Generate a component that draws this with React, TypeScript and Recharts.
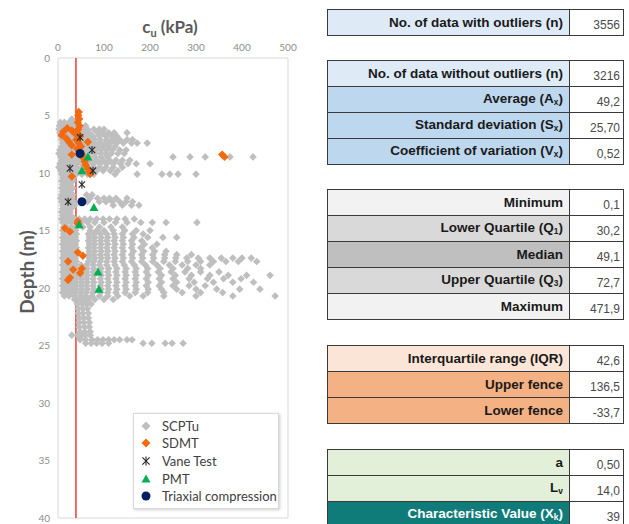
import { Legend, ReferenceArea, ReferenceLine, Scatter, ScatterChart, XAxis, YAxis } from "recharts";

const GREY = "#bfbfbf";
const ORANGE = "#f26a10";
const GREEN = "#00b050";
const NAVY = "#002060";
const BLACK = "#262626";
const RED = "#e8413c";
const AXIS_TEXT = "#595959";
const TICK_TEXT = "#8c8c8c";

const X_TICKS = [0, 100, 200, 300, 400, 500];
const Y_TICKS = [0, 5, 10, 15, 20, 25, 30, 35, 40];
const CHARACTERISTIC_CU = 39;

// SCPTu readings grouped per depth: [depth (m), cu values (kPa)]
const SCPTU_ROWS: [number, number[]][] = [
  [5.3, [30]],
  [5.6, [5, 14, 24, 34]],
  [5.9, [3, 10, 18, 26, 34, 42, 60]],
  [6.2, [2, 8, 16, 24, 32, 40, 48, 56, 64, 78, 90, 100]],
  [6.5, [4, 12, 20, 28, 36, 44, 52, 60, 68, 86, 98, 110, 122, 150]],
  [6.8, [6, 14, 22, 30, 38, 46, 56, 66, 76, 90, 104, 116, 128]],
  [7.1, [8, 16, 24, 32, 40, 50, 60, 70, 80, 92, 106, 120, 134, 150, 162]],
  [7.4, [10, 18, 26, 36, 46, 56, 66, 78, 90, 102, 114, 128, 142, 160, 172, 194]],
  [7.7, [8, 16, 24, 34, 44, 54, 64, 74, 86, 98, 110, 124]],
  [8.0, [4, 12, 20, 30, 40, 50, 60, 70, 82, 94, 106, 118, 134, 148]],
  [8.3, [2, 10, 18, 28, 38, 48, 58, 68, 80, 92, 104, 116, 130, 144]],
  [8.6, [6, 14, 24, 34, 44, 56, 68, 80, 94, 108, 250, 287, 320, 374, 424]],
  [8.9, [8, 16, 26, 36, 46, 58, 70, 84, 98, 112, 126, 140, 156]],
  [9.2, [4, 12, 22, 32, 42, 54, 66, 78, 92, 106, 120, 136, 152, 170, 200]],
  [9.5, [2, 10, 20, 30, 40, 52, 64, 76, 90, 104, 120, 140]],
  [9.8, [6, 14, 24, 34, 46, 58, 70, 84, 98, 114, 130]],
  [10.1, [8, 18, 28, 40, 52, 64, 78, 124, 172, 226, 243, 261, 300]],
  [10.4, [10, 18, 26, 34]],
  [10.7, [8, 16, 24, 32]],
  [11.0, [10, 18, 26]],
  [11.3, [8, 16, 24, 32]],
  [11.6, [10, 18, 26]],
  [11.9, [8, 16, 24, 32, 62, 74]],
  [12.2, [6, 14, 22, 30, 70, 86, 100, 112, 126, 150]],
  [12.5, [8, 16, 24, 34, 64, 90, 104, 118, 134, 148, 162]],
  [12.8, [10, 18, 26, 36, 120, 140, 160, 176]],
  [13.1, [10, 18, 28]],
  [13.4, [8, 16, 26]],
  [13.7, [10, 18, 28]],
  [14.0, [8, 16, 26, 36, 46, 58, 70, 84, 98, 112, 128, 146, 166]],
  [14.3, [10, 18, 28, 38, 50, 64, 80, 100, 125, 150, 180, 205, 235, 302]],
  [14.7, [12, 20, 30, 40, 54, 70, 90, 115, 140]],
  [15.0, [10, 18, 28, 38, 70, 84, 100, 120, 145, 170, 200]],
  [15.3, [12, 20, 30, 40, 66, 78, 92, 106, 122, 140, 162, 185]],
  [15.6, [10, 18, 28, 38, 68, 80, 94, 108, 124, 142, 165, 195, 228, 258]],
  [15.9, [12, 20, 30, 40, 66, 78, 92, 106, 122, 140, 160, 182]],
  [16.2, [10, 18, 28, 38, 68, 80, 94, 108, 124, 142, 162, 188, 215]],
  [16.5, [12, 20, 30, 40, 66, 78, 92, 106, 122, 140, 160, 180, 205]],
  [16.8, [10, 18, 28, 38, 68, 80, 94, 108, 124, 142, 164, 186, 210, 235]],
  [17.1, [12, 20, 30, 40, 66, 78, 92, 106, 122, 140, 160, 182, 206, 232, 258, 290]],
  [17.4, [10, 18, 28, 38, 68, 80, 94, 108, 124, 142, 162, 184, 208, 232, 256, 280, 305, 330, 355, 380, 400, 420]],
  [17.7, [12, 20, 30, 40, 66, 78, 92, 106, 122, 140, 160, 182, 206, 230, 255, 282, 310, 338, 365, 392, 432]],
  [18.0, [10, 18, 28, 38, 50, 62, 76, 90, 106, 124, 144, 166, 190, 215, 242, 270, 300, 330]],
  [18.3, [12, 20, 30, 40, 52, 64, 78, 94, 110, 128, 148, 170, 195, 222, 250, 282, 310]],
  [18.6, [10, 18, 28, 38, 50, 62, 76, 92, 108, 126, 146, 168, 192, 218, 246, 276, 310, 350]],
  [18.9, [12, 20, 30, 40, 52, 64, 78, 94, 110, 128, 148, 170, 196, 225, 255, 290, 330, 370, 410, 461]],
  [19.2, [10, 18, 28, 38, 50, 62, 76, 92, 108, 126, 146, 168, 192, 220, 250, 285, 325, 360, 398]],
  [19.5, [12, 20, 30, 40, 52, 64, 78, 94, 110, 128, 148, 170, 196, 225, 258, 296, 338, 380, 425]],
  [19.8, [10, 18, 28, 38, 50, 62, 76, 92, 108, 126, 146, 168, 192, 220, 250, 285, 320]],
  [20.1, [12, 20, 30, 40, 52, 64, 78, 94, 110, 128, 148, 170, 196, 225, 258, 300, 345, 395, 439]],
  [20.4, [10, 18, 28, 38, 50, 62, 76, 92, 108, 126, 146, 168, 195, 230, 270, 310, 358]],
  [20.7, [14, 24, 36, 48, 60, 74, 90, 108, 130, 156, 185, 230, 300, 380, 472]],
  [21.0, [36, 46, 56, 66, 80, 100, 120]],
  [21.4, [42, 52, 62, 72]],
  [21.8, [44, 54, 64]],
  [22.2, [44, 54, 66]],
  [22.6, [46, 56, 66]],
  [23.0, [46, 56, 68]],
  [23.4, [46, 58, 68]],
  [23.8, [48, 58, 70]],
  [24.1, [30, 43, 52, 60, 70]],
  [24.5, [48, 60, 74, 86, 98, 110, 122, 134, 150, 161]],
  [24.8, [60, 72, 84, 96, 110, 185, 204, 233, 248, 272]],
];

// [cu (kPa), depth (m)]
const SDMT: [number, number][] = [
  [45, 4.7], [44, 5.0], [46, 5.3], [43, 5.6], [47, 5.9], [44, 6.2], [42, 6.5], [48, 6.8],
  [40, 7.1], [45, 7.4], [50, 7.7], [42, 7.9], [46, 8.1], [52, 8.4], [55, 8.7], [58, 9.0],
  [60, 9.3], [64, 9.6], [68, 9.9], [70, 10.1], [20, 6.1], [12, 6.4], [8, 6.7], [18, 7.0],
  [24, 7.3], [30, 7.6], [30, 6.3], [38, 6.6], [65, 7.3], [30, 8.4], [30, 10.3],
  [357, 8.4], [362, 8.6], [43, 14.2], [43, 14.4], [15, 14.8], [26, 15.1], [43, 16.9],
  [54, 17.2], [22, 17.7], [33, 18.4], [52, 18.3], [48, 18.7], [26, 19.1], [22, 19.3],
];
const VANE: [number, number][] = [[48, 6.9], [74, 8.0], [26, 9.6], [76, 9.8], [52, 11.0], [22, 12.5]];
const PMT: [number, number][] = [[65, 8.6], [52, 9.8], [78, 13.0], [46, 14.5], [87, 18.6], [89, 20.1]];
const TRIAXIAL: [number, number][] = [[48, 8.3], [52, 12.5]];

const COUNT_ROWS = [["No. of data with outliers (n)", "3556"]];
const MOMENT_ROWS = [
  ["No. of data without outliers (n)", "3216"],
  ["Average (A_x)", "49,2"],
  ["Standard deviation (S_x)", "25,70"],
  ["Coefficient of variation (V_x)", "0,52"],
];
const QUARTILE_ROWS = [
  ["Minimum", "0,1"],
  ["Lower Quartile (Q_1)", "30,2"],
  ["Median", "49,1"],
  ["Upper Quartile (Q_3)", "72,7"],
  ["Maximum", "471,9"],
];
const FENCE_ROWS = [
  ["Interquartile range (IQR)", "42,6"],
  ["Upper fence", "136,5"],
  ["Lower fence", "-33,7"],
];
const CHAR_ROWS = [
  ["a", "0,50"],
  ["L_v", "14,0"],
  ["Characteristic Value (X_k)", "39"],
];

const scptu = SCPTU_ROWS.flatMap(([depth, values]) => values.map((cu) => ({ cu, depth })));
const toPoints = (rows: [number, number][]) => rows.map(([cu, depth]) => ({ cu, depth }));

type Kind = "diamond" | "star" | "triangle" | "circle";

function Marker({ kind, color, cx, cy, r = 4 }: { kind: Kind; color: string; cx: number; cy: number; r?: number }) {
  if (kind === "diamond")
    return <polygon points={`${cx},${cy - r} ${cx + r},${cy} ${cx},${cy + r} ${cx - r},${cy}`} fill={color} />;
  if (kind === "triangle")
    return <polygon points={`${cx},${cy - r} ${cx + r},${cy + r * 0.8} ${cx - r},${cy + r * 0.8}`} fill={color} />;
  if (kind === "circle") return <circle cx={cx} cy={cy} r={r} fill={color} />;
  const d = r * 0.8;
  return (
    <g stroke={color} strokeWidth={1.1}>
      <line x1={cx - d} y1={cy - d} x2={cx + d} y2={cy + d} />
      <line x1={cx - d} y1={cy + d} x2={cx + d} y2={cy - d} />
      <line x1={cx} y1={cy - r} x2={cx} y2={cy + r} />
    </g>
  );
}

const SERIES: { name: string; kind: Kind; color: string; r: number; data: { cu: number; depth: number }[] }[] = [
  { name: "SCPTu", kind: "diamond", color: GREY, r: 3.8, data: scptu },
  { name: "SDMT", kind: "diamond", color: ORANGE, r: 4.2, data: toPoints(SDMT) },
  { name: "Vane Test", kind: "star", color: BLACK, r: 4, data: toPoints(VANE) },
  { name: "PMT", kind: "triangle", color: GREEN, r: 4.5, data: toPoints(PMT) },
  { name: "Triaxial compression", kind: "circle", color: NAVY, r: 4.5, data: toPoints(TRIAXIAL) },
];

function LegendBox() {
  return (
    <div
      style={{
        background: "#fff",
        border: "1px solid #d9d9d9",
        boxShadow: "1px 1px 3px rgba(0,0,0,0.2)",
        padding: "3px 0 3px 6px",
        fontFamily: "Lato, sans-serif",
        fontSize: 13,
        color: "#404040",
      }}
    >
      {SERIES.map((s) => (
        <div key={s.name} style={{ display: "flex", alignItems: "center", height: 17.6 }}>
          <svg width={12} height={12} style={{ marginRight: 10 }}>
            <Marker kind={s.kind} color={s.color} cx={6} cy={6} r={4.5} />
          </svg>
          {s.name}
        </div>
      ))}
    </div>
  );
}

function withSub(label: string) {
  const m = label.match(/^(.*)_(\w)(.*)$/);
  if (!m) return label;
  return (
    <>
      {m[1]}
      <sub style={{ fontSize: "0.62em", verticalAlign: "-0.25em" }}>{m[2]}</sub>
      {m[3]}
    </>
  );
}

function StatTable({ rows, fills, top }: { rows: string[][]; fills: string[]; top: number }) {
  const border = "1px solid #3a3a3a";
  return (
    <table
      style={{
        position: "absolute",
        left: 327,
        top,
        width: 297,
        borderCollapse: "collapse",
        tableLayout: "fixed",
        fontFamily: '"Liberation Sans", Arial, sans-serif',
      }}
    >
      <tbody>
        {rows.map(([label, value], i) => {
          const dark = fills[i] === "#0f7c7a";
          return (
            <tr key={label} style={{ height: 26 }}>
              <td
                style={{
                  width: 229,
                  background: fills[i],
                  border,
                  textAlign: "right",
                  fontWeight: "bold",
                  fontSize: 13.5,
                  color: dark ? "#fff" : "#1a1a1a",
                  padding: "0 6px",
                  whiteSpace: "nowrap",
                }}
              >
                {withSub(label)}
              </td>
              <td
                style={{
                  background: "#fff",
                  border,
                  textAlign: "right",
                  fontSize: 12,
                  color: "#4a4a4a",
                  padding: "5px 3px 0 0",
                  verticalAlign: "middle",
                }}
              >
                {value}
              </td>
            </tr>
          );
        })}
      </tbody>
    </table>
  );
}

export default function App() {
  return (
    <div style={{ position: "absolute", left: 0, top: 0, width: 629, height: 524, background: "#fff", overflow: "hidden" }}>
      <div style={{ position: "absolute", left: 0, top: 0 }}>
        <ScatterChart width={310} height={524} margin={{ top: 0, right: 22, bottom: 6, left: 0 }}>
          <XAxis
            type="number"
            dataKey="cu"
            orientation="top"
            domain={[0, 500]}
            ticks={X_TICKS}
            height={58}
            tickSize={0}
            tickMargin={7}
            tickLine={false}
            axisLine={false}
            tick={{ fill: TICK_TEXT, fontSize: 10, fontFamily: "Lato, sans-serif" }}
            label={{
              content: ({ viewBox }: any) => (
                <text
                  x={viewBox.x + viewBox.width / 2 - 3}
                  y={viewBox.y + 33}
                  textAnchor="middle"
                  fill={AXIS_TEXT}
                  fontFamily="Lato, sans-serif"
                  fontWeight="bold"
                  fontSize={17}
                >
                  c
                  <tspan fontSize={11} dy={4}>u</tspan>
                  <tspan dy={-4}> (kPa)</tspan>
                </text>
              ),
            }}
          />
          <YAxis
            type="number"
            dataKey="depth"
            domain={[0, 40]}
            reversed
            ticks={Y_TICKS}
            width={58}
            tickSize={0}
            tickMargin={8}
            tickLine={false}
            axisLine={false}
            tick={{ fill: TICK_TEXT, fontSize: 10, fontFamily: "Lato, sans-serif" }}
            label={{
              content: ({ viewBox }: any) => {
                const x = viewBox.x + 26;
                const y = viewBox.y + viewBox.height / 2 - 16;
                return (
                  <text
                    x={x}
                    y={y}
                    transform={`rotate(-90 ${x} ${y})`}
                    textAnchor="middle"
                    dominantBaseline="central"
                    fill={AXIS_TEXT}
                    fontFamily="Lato, sans-serif"
                    fontWeight="bold"
                    fontSize={19}
                  >
                    Depth (m)
                  </text>
                );
              },
            }}
          />
          <ReferenceArea x1={0} x2={500} y1={0} y2={40} fill="none" stroke="#d9d9d9" />
          {SERIES.slice(0, 1).map((s) => (
            <Scatter
              key={s.name}
              name={s.name}
              data={s.data}
              isAnimationActive={false}
              shape={(p: any) => <Marker kind={s.kind} color={s.color} cx={p.cx} cy={p.cy} r={s.r} />}
            />
          ))}
          <ReferenceLine x={CHARACTERISTIC_CU} stroke={RED} strokeWidth={1.5} />
          {SERIES.slice(1).map((s) => (
            <Scatter
              key={s.name}
              name={s.name}
              data={s.data}
              isAnimationActive={false}
              shape={(p: any) => <Marker kind={s.kind} color={s.color} cx={p.cx} cy={p.cy} r={s.r} />}
            />
          ))}
          <Legend
            layout="vertical"
            align="center"
            verticalAlign="middle"
            content={() => <LegendBox />}
            wrapperStyle={{ position: "absolute", left: 133, top: 413, width: 146 }}
          />
        </ScatterChart>
      </div>
      <StatTable rows={COUNT_ROWS} fills={["#deeaf6"]} top={9} />
      <StatTable rows={MOMENT_ROWS} fills={["#deeaf6", "#bdd7ee", "#bdd7ee", "#bdd7ee"]} top={60} />
      <StatTable rows={QUARTILE_ROWS} fills={["#f2f2f2", "#d9d9d9", "#bfbfbf", "#d9d9d9", "#f2f2f2"]} top={189} />
      <StatTable rows={FENCE_ROWS} fills={["#fbe5d6", "#f4b183", "#f4b183"]} top={345} />
      <StatTable rows={CHAR_ROWS} fills={["#e2f0d9", "#e2f0d9", "#0f7c7a"]} top={449} />
    </div>
  );
}
